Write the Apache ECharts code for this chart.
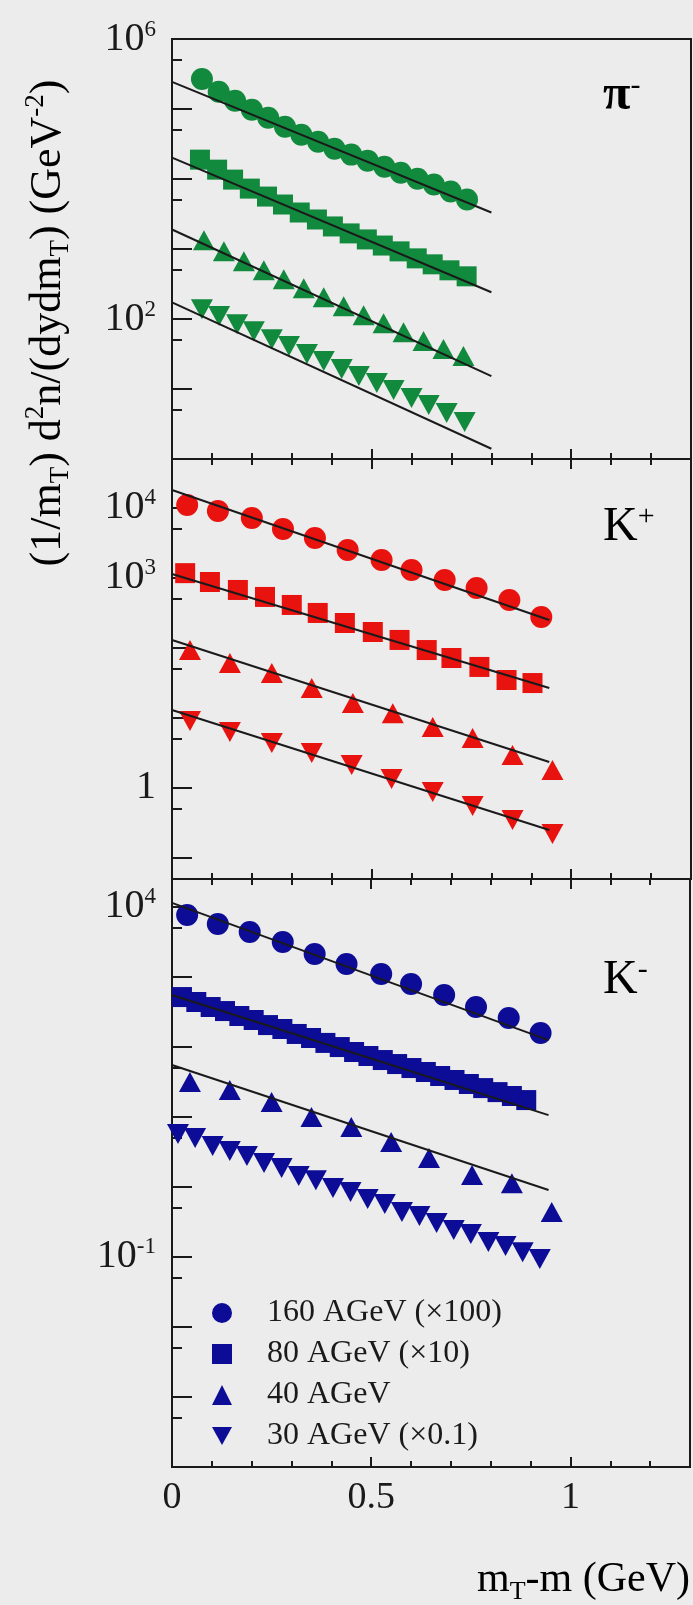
<!DOCTYPE html>
<html>
<head>
<meta charset="utf-8">
<script src="https://cdn.jsdelivr.net/npm/echarts@6.0.0/dist/echarts.min.js"></script>
<style>
  html, body { margin: 0; padding: 0; background: #ececec; }
  #chart { width: 693px; height: 1605px; }
</style>
</head>
<body>
<div id="chart"></div>
<script>
// ---- data ----
const seriesNames = ['160 AGeV (×100)', '80 AGeV (×10)', '40 AGeV', '30 AGeV (×0.1)'];
const xTickValues = [0, 0.5, 1];
const xTickLabels = ['0', '0.5', '1'];
const piLabelPowers = [6, 2];
const kPlusLabelPowers = [4, 3, 0];
const kMinusLabelPowers = [4, -1];

// fit line end points
const fitXPi = [0, 0.8];
const fitXK = [0, 0.945];

// pi- panel
const piX160 = [0.075, 0.117, 0.158, 0.2, 0.241, 0.283, 0.324, 0.366, 0.407, 0.449, 0.49, 0.532, 0.573, 0.615, 0.656, 0.698, 0.739];
const piY160 = [2.69e5, 1.76e5, 1.31e5, 9.75e4, 7.5e4, 5.58e4, 4.29e4, 3.41e4, 2.71e4, 2.23e4, 1.83e4, 1.5e4, 1.23e4, 1.01e4, 8.32e3, 6.62e3, 5.09e3];
const piX80 = [0.07, 0.113, 0.153, 0.195, 0.238, 0.278, 0.32, 0.363, 0.403, 0.445, 0.488, 0.528, 0.57, 0.613, 0.653, 0.695, 0.738];
const piY80 = [1.89e4, 1.36e4, 9.8e3, 7.29e3, 5.61e3, 4.32e3, 3.32e3, 2.64e3, 2.1e3, 1.67e3, 1.37e3, 1.12e3, 925, 735, 604, 496, 407];
const piX40 = [0.08, 0.13, 0.18, 0.23, 0.28, 0.33, 0.38, 0.43, 0.48, 0.53, 0.58, 0.63, 0.68, 0.73];
const piY40 = [1.33e3, 925, 666, 496, 369, 275, 205, 152, 113, 87.1, 64.9, 48.3, 37.2, 29.5];
const piX30 = [0.075, 0.118, 0.163, 0.205, 0.25, 0.293, 0.338, 0.38, 0.425, 0.468, 0.513, 0.555, 0.6, 0.643, 0.688, 0.733];
const piY30 = [138, 110, 84.3, 67.0, 51.5, 41.0, 31.5, 25.1, 19.3, 15.3, 12.2, 9.68, 7.45, 5.92, 4.55, 3.39];
const piFit160 = [2.44e5, 3.32e3];
const piFit80 = [2.02e4, 241];
const piFit40 = [1.9e3, 15.3];
const piFit30 = [173, 1.4];

// K+ panel
const kpX160 = [0.038, 0.115, 0.2, 0.278, 0.358, 0.44, 0.525, 0.6, 0.683, 0.763, 0.845, 0.925];
const kpY160 = [1.1e4, 9.04e3, 7.18e3, 5.0e3, 3.72e3, 2.51e3, 1.8e3, 1.3e3, 933, 718, 484, 277];
const kpX80 = [0.033, 0.095, 0.165, 0.233, 0.3, 0.365, 0.433, 0.503, 0.57, 0.638, 0.7, 0.77, 0.838, 0.903];
const kpY80 = [1.17e3, 875, 673, 535, 411, 316, 227, 169, 130, 93.3, 71.8, 53.5, 34.8, 31.5];
const kpX40 = [0.045, 0.145, 0.25, 0.35, 0.453, 0.553, 0.653, 0.753, 0.853, 0.953];
const kpY40 = [93.4, 60.9, 43.9, 26.8, 16.3, 11.7, 7.42, 5.16, 2.96, 1.8];
const kpX30 = [0.045, 0.145, 0.25, 0.35, 0.45, 0.55, 0.653, 0.753, 0.853, 0.953];
const kpY30 = [9.04, 6.3, 4.39, 3.16, 2.13, 1.34, 0.875, 0.552, 0.348, 0.22];
const kpFit160 = [1.8e4, 251];
const kpFit80 = [1.14e3, 26.8];
const kpFit40 = [130, 2.35];
const kpFit30 = [13.0, 0.251];

// K- panel
const kmX160 = [0.038, 0.115, 0.195, 0.278, 0.358, 0.438, 0.525, 0.6, 0.683, 0.763, 0.845, 0.925];
const kmY160 = [7.65e3, 5.69e3, 4.37e3, 3.15e3, 2.12e3, 1.53e3, 1.1e3, 791, 551, 371, 258, 158];
const kmX80 = [0.025, 0.061, 0.097, 0.133, 0.169, 0.205, 0.241, 0.277, 0.313, 0.349, 0.385, 0.421, 0.457, 0.493, 0.529, 0.565, 0.601, 0.637, 0.673, 0.709, 0.745, 0.781, 0.817, 0.853, 0.889];
const kmY80 = [515, 438, 371, 325, 276, 242, 205, 180, 153, 134, 114, 99.5, 84.5, 74.1, 64.9, 56.9, 49.9, 43.8, 38.4, 33.7, 29.5, 25.8, 22.6, 19.9, 17.4];
const kmX40 = [0.045, 0.145, 0.25, 0.35, 0.45, 0.55, 0.645, 0.753, 0.853, 0.953];
const kmY40 = [31.5, 24.2, 16.3, 9.95, 7.16, 4.38, 2.58, 1.48, 1.13, 0.438];
const kmX30 = [0.015, 0.058, 0.102, 0.145, 0.188, 0.231, 0.275, 0.318, 0.361, 0.404, 0.448, 0.491, 0.534, 0.577, 0.621, 0.664, 0.707, 0.75, 0.794, 0.837, 0.88, 0.923];
const kmY30 = [5.69, 4.99, 3.84, 3.25, 2.76, 2.19, 1.86, 1.43, 1.25, 0.964, 0.845, 0.672, 0.569, 0.438, 0.384, 0.305, 0.242, 0.212, 0.163, 0.143, 0.117, 0.0933];
const kmFit160 = [1.14e4, 125];
const kmFit80 = [551, 10.6];
const kmFit40 = [55.1, 0.902];

// ---- styling ----
const SERIF = "'Liberation Serif', 'DejaVu Serif', serif";
const INK = '#1a1a1a';
const GREEN = '#128a3e';
const RED = '#e8120f';
const BLUE = '#0c0c96';
const DOWN = 'path://M0,0L20,0L10,18Z';

const panels = [
  { top: 39, height: 420, min: 1, max: 1e6, powers: piLabelPowers, topTicks: false },
  { top: 459, height: 420, min: 0.05, max: 5e4, powers: kPlusLabelPowers, topTicks: true },
  { top: 879, height: 588, min: 1e-4, max: 2.5e4, powers: kMinusLabelPowers, topTicks: true }
];

function pts(xs, ys) {
  return xs.map((x, i) => [x, ys[i]]);
}

function powLabel(shown) {
  return function (v) {
    const p = Math.log10(v);
    const r = Math.round(p);
    if (Math.abs(p - r) > 1e-6 || shown.indexOf(r) < 0) return '';
    if (r === 0) return '{a|1}';
    return '{a|10}{s|' + (r < 0 ? '-' : '') + Math.abs(r) + '}';
  };
}

const tickStyle = { color: INK, width: 2 };

const grid = panels.map(p => ({
  left: 172, width: 519, top: p.top, height: p.height,
  show: true, borderColor: INK, borderWidth: 2, backgroundColor: 'transparent'
}));

const xAxis = [];
panels.forEach((p, i) => {
  xAxis.push({
    type: 'value', gridIndex: i, min: 0, max: 1.3, interval: 0.5, position: 'bottom',
    axisLine: { show: false },
    axisTick: { inside: true, length: 10, lineStyle: tickStyle },
    minorTick: { show: true, splitNumber: 5, length: 6, lineStyle: tickStyle },
    splitLine: { show: false },
    axisLabel: {
      show: i === 2, margin: 12, fontFamily: SERIF, fontSize: 38, color: INK,
      formatter: v => {
        const k = xTickValues.findIndex(t => Math.abs(t - v) < 1e-9);
        return k < 0 ? '' : xTickLabels[k];
      }
    }
  });
});
panels.forEach((p, i) => {
  if (!p.topTicks) return;
  xAxis.push({
    type: 'value', gridIndex: i, min: 0, max: 1.3, interval: 0.5, position: 'top',
    axisLine: { show: false },
    axisTick: { inside: true, length: 10, lineStyle: tickStyle },
    minorTick: { show: true, splitNumber: 5, length: 6, lineStyle: tickStyle },
    splitLine: { show: false },
    axisLabel: { show: false }
  });
});

const yAxis = [];
panels.forEach((p, i) => {
  yAxis.push({
    type: 'log', logBase: 10, gridIndex: i, min: p.min, max: p.max, position: 'left',
    axisLine: { show: false },
    axisTick: { show: true, inside: true, length: 20, lineStyle: tickStyle },
    splitLine: { show: false },
    axisLabel: {
      margin: 16, formatter: powLabel(p.powers),
      rich: {
        a: { fontFamily: SERIF, fontSize: 40, lineHeight: 42, color: INK },
        s: { fontFamily: SERIF, fontSize: 23, lineHeight: 23, verticalAlign: 'top', color: INK }
      }
    }
  });
});
// second log axis shifted by a factor 2: its decades mark 5 x 10^n on the main axis
panels.forEach((p, i) => {
  yAxis.push({
    type: 'log', logBase: 10, gridIndex: i, min: p.min * 2, max: p.max * 2, position: 'left',
    axisLine: { show: false },
    axisTick: { show: true, inside: true, length: 10, lineStyle: tickStyle },
    splitLine: { show: false },
    axisLabel: { show: false }
  });
});

function scatter(name, panel, xs, ys, symbol, size, color) {
  return {
    type: 'scatter', name: name, xAxisIndex: panel, yAxisIndex: panel,
    data: pts(xs, ys), symbol: symbol, symbolSize: size,
    itemStyle: { color: color, opacity: 1 }, z: 2, silent: true
  };
}
function fit(name, panel, xs, ys) {
  return {
    type: 'line', name: name, xAxisIndex: panel, yAxisIndex: panel,
    data: pts(xs, ys), showSymbol: false, symbol: 'none',
    lineStyle: { color: INK, width: 2 }, z: 3, silent: true
  };
}

const CIRCLE = 22, SQUARE = 20, TRI = [22, 20];

const series = [
  scatter('pi 160', 0, piX160, piY160, 'circle', CIRCLE, GREEN),
  scatter('pi 80', 0, piX80, piY80, 'rect', SQUARE, GREEN),
  scatter('pi 40', 0, piX40, piY40, 'triangle', TRI, GREEN),
  scatter('pi 30', 0, piX30, piY30, DOWN, TRI, GREEN),
  fit('pi fit 160', 0, fitXPi, piFit160),
  fit('pi fit 80', 0, fitXPi, piFit80),
  fit('pi fit 40', 0, fitXPi, piFit40),
  fit('pi fit 30', 0, fitXPi, piFit30),

  scatter('K+ 160', 1, kpX160, kpY160, 'circle', CIRCLE, RED),
  scatter('K+ 80', 1, kpX80, kpY80, 'rect', SQUARE, RED),
  scatter('K+ 40', 1, kpX40, kpY40, 'triangle', TRI, RED),
  scatter('K+ 30', 1, kpX30, kpY30, DOWN, TRI, RED),
  fit('K+ fit 160', 1, fitXK, kpFit160),
  fit('K+ fit 80', 1, fitXK, kpFit80),
  fit('K+ fit 40', 1, fitXK, kpFit40),
  fit('K+ fit 30', 1, fitXK, kpFit30),

  scatter(seriesNames[0], 2, kmX160, kmY160, 'circle', CIRCLE, BLUE),
  scatter(seriesNames[1], 2, kmX80, kmY80, 'rect', SQUARE, BLUE),
  scatter(seriesNames[2], 2, kmX40, kmY40, 'triangle', TRI, BLUE),
  scatter(seriesNames[3], 2, kmX30, kmY30, DOWN, TRI, BLUE),
  fit('K- fit 160', 2, fitXK, kmFit160),
  fit('K- fit 80', 2, fitXK, kmFit80),
  fit('K- fit 40', 2, fitXK, kmFit40)
];

const labelRich = {
  m: { fontFamily: SERIF, fontSize: 48, lineHeight: 50, color: INK },
  p: { fontFamily: SERIF, fontSize: 50, lineHeight: 50, fontWeight: 'bold', color: INK },
  s: { fontFamily: SERIF, fontSize: 30, lineHeight: 30, verticalAlign: 'top', color: INK }
};
const titleRich = {
  a: { fontFamily: SERIF, fontSize: 44, lineHeight: 52, color: INK },
  u: { fontFamily: SERIF, fontSize: 27, lineHeight: 27, verticalAlign: 'top', color: INK },
  d: { fontFamily: SERIF, fontSize: 27, lineHeight: 27, verticalAlign: 'bottom', color: INK }
};
const xTitleRich = {
  a: { fontFamily: SERIF, fontSize: 42, lineHeight: 50, color: INK },
  d: { fontFamily: SERIF, fontSize: 26, lineHeight: 26, verticalAlign: 'bottom', color: INK }
};

const graphic = [
  { type: 'text', x: 603, y: 96, style: { text: '{p|π}{s|-}', rich: labelRich, align: 'left', verticalAlign: 'middle' } },
  { type: 'text', x: 603, y: 527, style: { text: '{m|K}{s|+}', rich: labelRich, align: 'left', verticalAlign: 'middle' } },
  { type: 'text', x: 603, y: 980, style: { text: '{m|K}{s|-}', rich: labelRich, align: 'left', verticalAlign: 'middle' } },
  {
    type: 'text', x: 48, y: 323, rotation: Math.PI / 2,
    style: {
      text: '{a|(1/m}{d|T}{a|) d}{u|2}{a|n/(dydm}{d|T}{a|) (GeV}{u|-2}{a|)}',
      rich: titleRich, align: 'center', verticalAlign: 'middle'
    }
  },
  {
    type: 'text', x: 690, y: 1580,
    style: { text: '{a|m}{d|T}{a|-m (GeV)}', rich: xTitleRich, align: 'right', verticalAlign: 'middle' }
  }
];

const chart = echarts.init(document.getElementById('chart'), null, { renderer: 'canvas' });
chart.setOption({
  backgroundColor: '#ececec',
  animation: false,
  grid: grid,
  xAxis: xAxis,
  yAxis: yAxis,
  legend: {
    data: [
      { name: seriesNames[0], icon: 'circle' },
      { name: seriesNames[1], icon: 'rect' },
      { name: seriesNames[2], icon: 'triangle' },
      { name: seriesNames[3], icon: DOWN }
    ],
    orient: 'vertical', left: 207, top: 1292,
    itemWidth: 20, itemHeight: 20, itemGap: 9, selectedMode: false,
    textStyle: { fontFamily: SERIF, fontSize: 32, color: INK, padding: [0, 0, 0, 30] }
  },
  graphic: graphic,
  series: series
});
window.addEventListener('resize', () => chart.resize());
</script>
</body>
</html>
